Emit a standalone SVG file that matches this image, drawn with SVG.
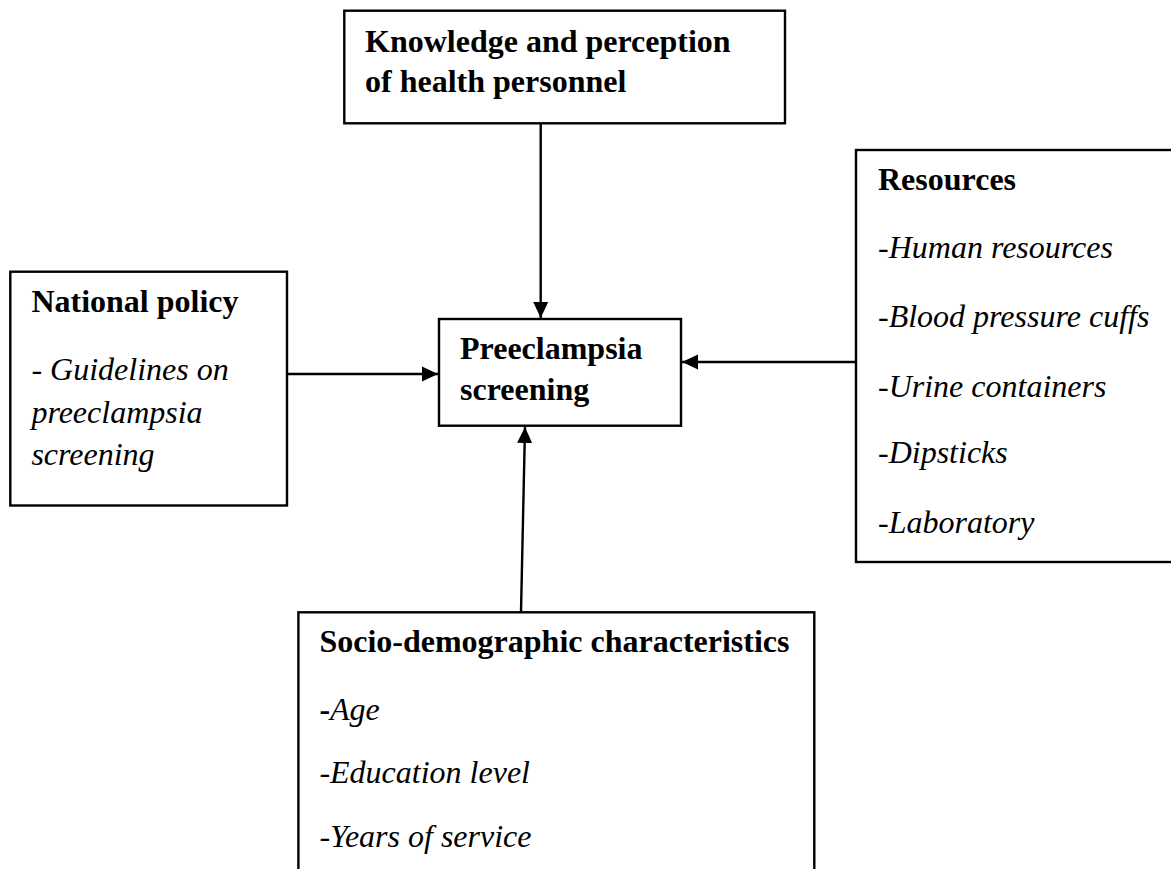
<svg xmlns="http://www.w3.org/2000/svg" width="1171" height="869" viewBox="0 0 1171 869">
<style>
.box{fill:#fff;stroke:#000;stroke-width:2.4}
.h{font-family:"Liberation Serif","Times New Roman",serif;font-weight:bold;font-size:32px;fill:#000}
.t{font-family:"Liberation Serif","Times New Roman",serif;font-style:italic;font-size:32px;fill:#000}
.c{stroke:#000;stroke-width:2.4;fill:none;marker-end:url(#ah)}
</style>
<defs>
<marker id="ah" markerUnits="userSpaceOnUse" markerWidth="18" markerHeight="18" viewBox="0 0 18 18" refX="16" refY="9" orient="auto">
<path d="M0,1.5 L16,9 L0,16.5 Z" fill="#000"/>
</marker>
</defs>
<rect width="1171" height="869" fill="#fff"/>
<g id="connectors">
<line class="c" x1="540.7" y1="124" x2="540.7" y2="318"/>
<line class="c" x1="287" y1="374" x2="438" y2="374"/>
<line class="c" x1="856" y1="362" x2="682" y2="362"/>
<line class="c" x1="521" y1="612" x2="525" y2="427"/>
</g>
<g id="knowledge">
<rect class="box" x="344.3" y="10.7" width="440.7" height="112.6"/>
<text class="h" x="365" y="51.7">Knowledge and perception</text>
<text class="h" x="365" y="91.7">of health personnel</text>
</g>
<g id="national">
<rect class="box" x="10.3" y="271.7" width="276.7" height="233.8"/>
<text class="h" x="31.4" y="311.7">National policy</text>
<text class="t" x="31.4" y="380">- Guidelines on</text>
<text class="t" x="31.4" y="423">preeclampsia</text>
<text class="t" x="31.4" y="465">screening</text>
</g>
<g id="center">
<rect class="box" x="439" y="319" width="242" height="106.7"/>
<text class="h" x="460" y="359.3">Preeclampsia</text>
<text class="h" x="460" y="400">screening</text>
</g>
<g id="resources">
<rect class="box" x="856" y="150" width="320" height="412"/>
<text class="h" x="878" y="190">Resources</text>
<text class="t" x="878" y="258">-Human resources</text>
<text class="t" x="878" y="326.7">-Blood pressure cuffs</text>
<text class="t" x="878" y="396.7">-Urine containers</text>
<text class="t" x="878" y="463">-Dipsticks</text>
<text class="t" x="878" y="533">-Laboratory</text>
</g>
<g id="socio">
<rect class="box" x="298.4" y="612.3" width="515.9" height="270"/>
<text class="h" x="319.4" y="651.7">Socio-demographic characteristics</text>
<text class="t" x="319.4" y="720"><tspan font-weight="bold" font-style="normal">-</tspan>Age</text>
<text class="t" x="319.4" y="783.3">-Education level</text>
<text class="t" x="319.4" y="846.7">-Years of service</text>
</g>
</svg>
